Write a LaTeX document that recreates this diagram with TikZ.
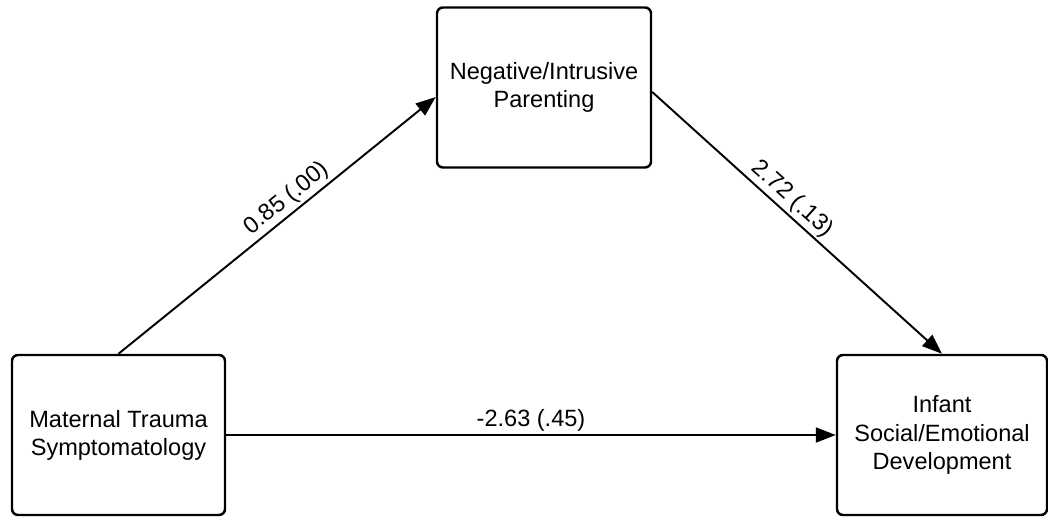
\documentclass[tikz,border=0pt]{standalone}
\usepackage{fontspec}
\setmainfont{Liberation Sans}
\usetikzlibrary{arrows.meta}

\begin{document}
\begin{tikzpicture}[-{Triangle[length=4mm,width=3mm]}, line width=1.1pt, font=\fontsize{13.4}{16}\selectfont]
   \useasboundingbox (0,0) rectangle (20.96,10.34);
   \tikzstyle{box}=[rectangle, rounded corners=1.2mm, draw=black, line width=1.4pt, align=center, minimum width=4.26cm, minimum height=3.2cm, inner sep=0pt]
   \tikzstyle{coef}=[sloped, above, inner sep=1.5pt]
   \node[box] (trauma) at (2.37,1.64) {Maternal Trauma\\Symptomatology};
   \node[box, minimum width=4.28cm] (parenting) at (10.88,8.59) {Negative/Intrusive\\Parenting};
   \node[box, minimum width=4.2cm] (infant) at (18.84,1.64) {Infant\\Social/Emotional\\Development};
   \path (trauma.north) edge node[coef, pos=0.56] {0.85 (.00)} ([yshift=-1.9mm]parenting.west);
   \path ([yshift=-0.9mm]parenting.east) edge node[coef, pos=0.45] {2.72 (.13)} (infant.north);
   \path (trauma) edge node[coef] {-2.63 (.45)} (infant);
\end{tikzpicture}
\end{document}
